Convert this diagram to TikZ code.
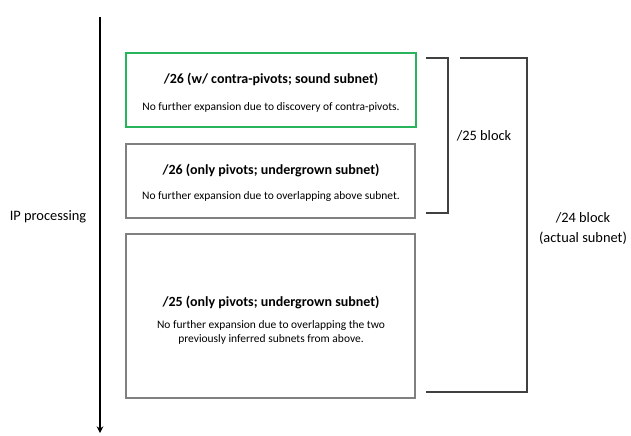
\documentclass[tikz,border=0pt]{standalone}
\usepackage{fontspec}
\setmainfont{Carlito}
\usetikzlibrary{arrows.meta}
\definecolor{boxgreen}{RGB}{40,180,90}
\definecolor{boxgray}{RGB}{128,128,128}
\definecolor{brgray}{RGB}{64,64,64}
\begin{document}
\begin{tikzpicture}[x=0.75pt,y=-0.75pt,
  subbox/.style={draw=boxgray,line width=1.5pt,inner sep=0pt},
  greenbox/.style={draw=boxgreen,line width=1.5pt,inner sep=0pt},
  title/.style={font=\bfseries\fontsize{10.5}{12}\selectfont,inner sep=0pt},
  note/.style={font=\fontsize{8.6}{10.5}\selectfont,align=center,inner sep=0pt},
  brack/.style={draw=brgray,line width=1.1pt},
  lbl/.style={font=\fontsize{10.8}{15}\selectfont,align=center,inner sep=0pt}]
\useasboundingbox (0,0) rectangle (631,435);
% time arrow
\coordinate (atop) at (100,17);
\coordinate (abot) at (100,433);
\draw[line width=1.5pt,-{Stealth[length=5pt,width=5pt]}] (atop) -- (abot);
\node[lbl] (ip) at (48,217) {IP processing};
% boxes
\draw[greenbox] (126,53) rectangle (416,127);
\node[title] (t1) at (271,79) {/26 (w/ contra-pivots; sound subnet)};
\node[note] (n1) at (271,107) {No further expansion due to discovery of contra-pivots.};
\draw[subbox] (126,144) rectangle (415,218);
\node[title] (t2) at (271,170) {/26 (only pivots; undergrown subnet)};
\node[note] (n2) at (271,197) {No further expansion due to overlapping above subnet.};
\draw[subbox] (126,234) rectangle (415,398);
\node[title] (t3) at (271,302) {/25 (only pivots; undergrown subnet)};
\node[note] (n3) at (271,332) {No further expansion due to overlapping the two\\previously inferred subnets from above.};
% brackets
\coordinate (b1a) at (426,58);
\coordinate (b1b) at (448,58);
\coordinate (b1c) at (448,213);
\coordinate (b1d) at (426,213);
\draw[brack] (b1a) -- (b1b) -- (b1c) -- (b1d);
\node[lbl] (l25) at (484,136) {/25 block};
\coordinate (b2a) at (460,58);
\coordinate (b2b) at (527,58);
\coordinate (b2c) at (527,392);
\coordinate (b2d) at (426,392);
\draw[brack] (b2a) -- (b2b) -- (b2c) -- (b2d);
\node[lbl] (l24) at (583,228) {/24 block\\(actual subnet)};
\end{tikzpicture}
\end{document}
